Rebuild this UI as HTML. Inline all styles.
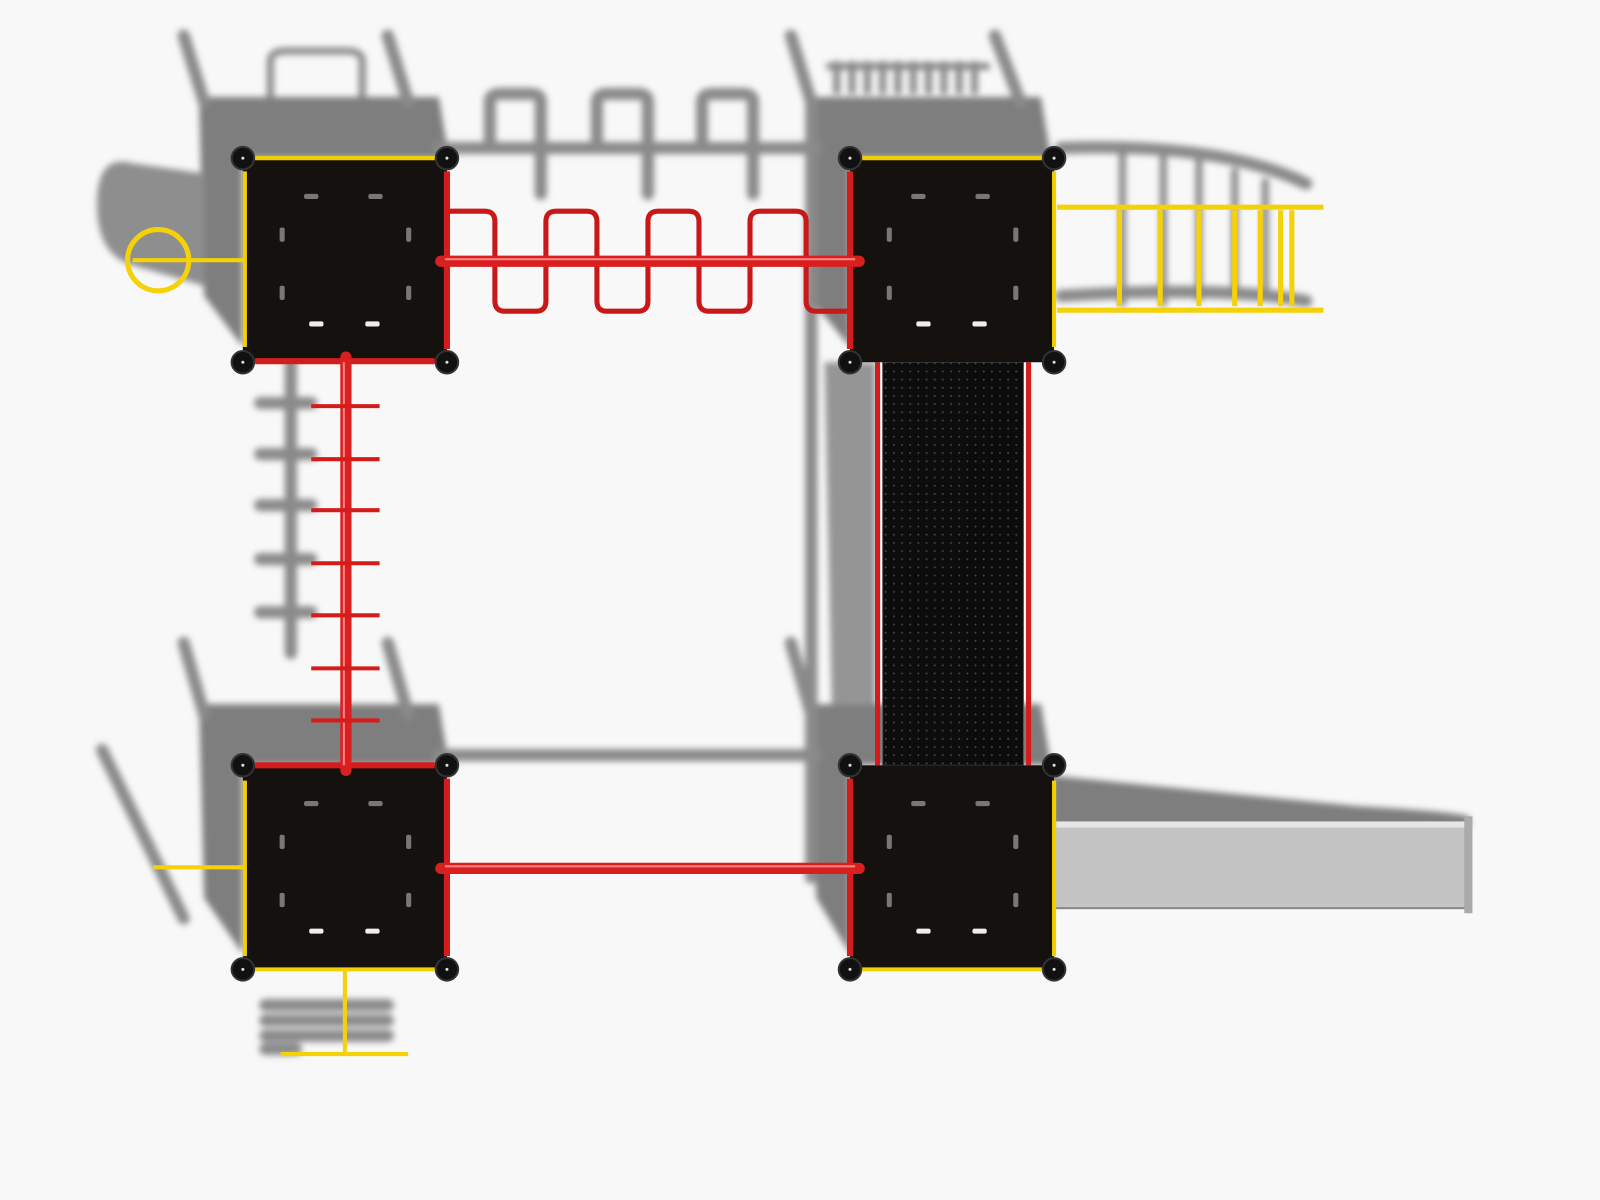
<!DOCTYPE html>
<html><head><meta charset="utf-8"><style>html,body{margin:0;padding:0;background:#f8f8f8}svg{display:block}</style></head>
<body>
<svg width="1600" height="1200" viewBox="0 0 1568 1176" xmlns="http://www.w3.org/2000/svg" preserveAspectRatio="none">
<defs>
<filter id="blur" x="-10%" y="-10%" width="120%" height="120%"><feGaussianBlur stdDeviation="3"/></filter>
<pattern id="holes" width="8" height="8" patternUnits="userSpaceOnUse"><rect width="8" height="8" fill="#0c0c0c"/><circle cx="4" cy="4" r="1" fill="#444"/></pattern>
<g id="deck">
 <rect x="0" y="0" width="200" height="200" fill="#15110e"/>
 <g fill="#777"><rect x="60" y="35" width="14" height="5" rx="2"/><rect x="123" y="35" width="14" height="5" rx="2"/>
 <rect x="36" y="68" width="5" height="14" rx="2"/><rect x="160" y="68" width="5" height="14" rx="2"/>
 <rect x="36" y="125" width="5" height="14" rx="2"/><rect x="160" y="125" width="5" height="14" rx="2"/></g>
 <g fill="#eee"><rect x="65" y="160" width="14" height="5" rx="2"/><rect x="120" y="160" width="14" height="5" rx="2"/></g>
 <g fill="#111" stroke="#333" stroke-width="2">
 <circle cx="0" cy="0" r="11"/><circle cx="200" cy="0" r="11"/><circle cx="0" cy="200" r="11"/><circle cx="200" cy="200" r="11"/></g>
 <g fill="#ddd"><circle cx="0" cy="0" r="1.5"/><circle cx="200" cy="0" r="1.5"/><circle cx="0" cy="200" r="1.5"/><circle cx="200" cy="200" r="1.5"/></g>
</g>
</defs>
<rect width="1568" height="1176" fill="#f8f8f8"/>
<g filter="url(#blur)">
<!-- deck shadow fills -->
<g fill="#7e7e7e">
 <path d="M195 95 H430 L440 155 H238 V340 L200 290 Z"/>
 <path d="M790 95 H1020 L1030 155 H833 V340 L800 300 Z"/>
 <path d="M195 690 H430 L440 750 H238 V935 L200 880 Z"/>
 <path d="M790 690 H1020 L1030 750 H833 V935 L800 880 Z"/>
</g>
<g fill="none" stroke="#8a8a8a" stroke-width="12" stroke-linecap="round">
 <path d="M180 35 L200 100"/><path d="M380 35 L400 100"/>
 <path d="M430 145 H800"/>
 <path d="M480 145 V100 Q480 92 490 92 H520 Q530 92 530 100 V190"/><path d="M585 145 V100 Q585 92 595 92 H625 Q635 92 635 100 V190"/><path d="M688 145 V100 Q688 92 698 92 H728 Q738 92 738 100 V190"/>
 <path d="M775 35 L795 100 L795 740"/><path d="M975 35 L1000 100"/>
 <path d="M1040 145 Q1200 140 1280 180"/><path d="M1040 290 Q1200 280 1280 295"/>
 <path d="M285 355 V640"/><path d="M180 630 L200 700"/><path d="M380 630 L400 700"/>
 <path d="M430 740 H800"/><path d="M775 630 L795 700 L795 860"/>
 <path d="M100 735 L180 900"/><path d="M260 985 H380 M260 1000 H380 M260 1015 H380 M260 1028 H290"/>
 <path d="M255 395 H305 M255 445 H305 M255 495 H305 M255 548 H305 M255 600 H305"/>
</g>
<g fill="none" stroke="#8a8a8a" stroke-width="7">
 <path d="M265 95 V60 Q265 50 280 50 H340 Q355 50 355 60 V95"/>
 <path d="M810 65 H970 M820 60 V92 M835 60 V92 M850 60 V92 M865 60 V92 M880 60 V92 M895 60 V92 M910 60 V92 M925 60 V92 M940 60 V92 M955 60 V92"/>
 <path d="M1100 150 V300 M1140 150 V300 M1175 155 V295 M1210 165 V290 M1240 175 V290"/>
 <path d="M820 360 V690"/>
</g>
<path d="M95 200 Q95 150 130 160 L200 170 L200 280 L130 260 Q95 250 95 200Z" fill="#8e8e8e"/>
<path d="M1030 760 L1330 790 Q1420 795 1440 800 L1440 810 L1030 810Z" fill="#7e7e7e"/>
<path d="M808 355 L858 355 L858 690 L815 690Z" fill="#959595"/>
</g>
<!-- bridge -->
<rect x="865" y="355" width="138" height="395" fill="url(#holes)" stroke="#555" stroke-width="1"/>
<g stroke="#d41c1c" stroke-width="5"><line x1="860" y1="355" x2="860" y2="750"/><line x1="1008" y1="355" x2="1008" y2="750"/></g>
<!-- slide -->
<rect x="1020" y="808" width="420" height="82" fill="#c4c4c4" stroke="#888" stroke-width="2"/>
<rect x="1035" y="805" width="405" height="6" fill="#e6e6e6"/>
<rect x="1435" y="800" width="8" height="95" fill="#aaa"/>
<!-- decks -->
<use href="#deck" x="238" y="155"/><use href="#deck" x="833" y="155"/>
<use href="#deck" x="238" y="750"/><use href="#deck" x="833" y="750"/>
<g stroke="#f2d000" stroke-width="4">
 <line x1="250" y1="155" x2="426" y2="155"/><line x1="240" y1="168" x2="240" y2="340"/>
 <line x1="845" y1="155" x2="1021" y2="155"/><line x1="1033" y1="168" x2="1033" y2="340"/>
 <line x1="240" y1="765" x2="240" y2="937"/><line x1="250" y1="950" x2="426" y2="950"/>
 <line x1="845" y1="950" x2="1021" y2="950"/><line x1="1033" y1="765" x2="1033" y2="937"/>
</g>
<g stroke="#d41c1c" stroke-width="6" fill="none">
 <line x1="438" y1="168" x2="438" y2="342"/><line x1="250" y1="354" x2="426" y2="354"/>
 <line x1="833" y1="168" x2="833" y2="342"/>
 <line x1="438" y1="763" x2="438" y2="937"/><line x1="250" y1="750" x2="426" y2="750"/>
 <line x1="833" y1="763" x2="833" y2="937"/>
</g>
<g fill="none" stroke="#c81818" stroke-width="5">
 <path d="M440 207 H475 Q485 207 485 217 V295 Q485 305 495 305 H525 Q535 305 535 295 V217 Q535 207 545 207 H575 Q585 207 585 217 V295 Q585 305 595 305 H625 Q635 305 635 295 V217 Q635 207 645 207 H675 Q685 207 685 217 V295 Q685 305 695 305 H725 Q735 305 735 295 V217 Q735 207 745 207 H780 Q790 207 790 217 V295 Q790 305 800 305 H830"/>
</g>
<g stroke="#d82020" stroke-linecap="round">
 <line x1="432" y1="256" x2="842" y2="256" stroke-width="11"/>
 <line x1="432" y1="851" x2="842" y2="851" stroke-width="11"/>
 <line x1="339" y1="350" x2="339" y2="755" stroke-width="11"/>
</g>
<g stroke="#ff8080" stroke-width="2"><line x1="436" y1="254" x2="838" y2="254"/><line x1="436" y1="849" x2="838" y2="849"/><line x1="337" y1="355" x2="337" y2="750"/></g>
<g stroke="#d41c1c" stroke-width="4">
 <line x1="305" y1="398" x2="372" y2="398"/><line x1="305" y1="450" x2="372" y2="450"/><line x1="305" y1="500" x2="372" y2="500"/>
 <line x1="305" y1="552" x2="372" y2="552"/><line x1="305" y1="603" x2="372" y2="603"/><line x1="305" y1="655" x2="372" y2="655"/><line x1="305" y1="706" x2="372" y2="706"/>
</g>
<g fill="none" stroke="#f5d10a" stroke-width="5">
 <line x1="1036" y1="203" x2="1297" y2="203"/><line x1="1036" y1="304" x2="1297" y2="304"/>
 <path d="M1097 206 V300 M1137 206 V300 M1175 206 V300 M1210 206 V300 M1235 206 V300 M1255 206 V300 M1266 206 V300"/>
</g>
<circle cx="155" cy="255" r="30" fill="none" stroke="#f5d10a" stroke-width="5"/>
<line x1="130" y1="255" x2="240" y2="255" stroke="#f5d10a" stroke-width="4"/>
<line x1="150" y1="850" x2="240" y2="850" stroke="#f5d10a" stroke-width="4"/>
<g stroke="#f5d10a" stroke-width="4" fill="none">
 <line x1="338" y1="950" x2="338" y2="1033"/><line x1="275" y1="1033" x2="400" y2="1033"/>
</g>
</svg>
</body></html>
